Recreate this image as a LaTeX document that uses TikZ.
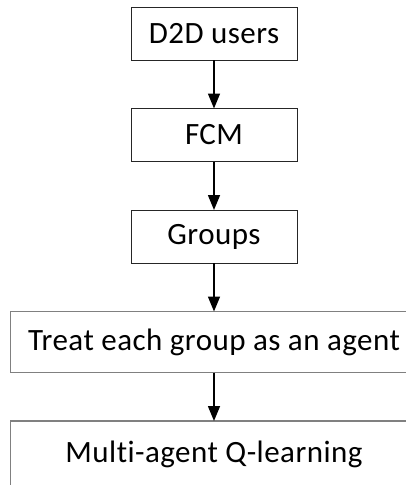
\documentclass[tikz,border=0pt]{standalone}
\usepackage{fontspec}
\setmainfont{Carlito}[LetterSpace=1.5,Ligatures=NoCommon]
\usetikzlibrary{positioning,arrows.meta}

\begin{document}
\begin{tikzpicture}[
  x=1pt,y=-1pt,
  every node/.style={font=\fontsize{31}{37}\selectfont},
  stage/.style={draw=black!85,line width=0.9pt,minimum width=166pt,minimum height=53pt,inner sep=0pt,outer sep=0pt},
  widestage/.style={draw=black!50,line width=1.4pt,minimum width=406.6pt,minimum height=61pt,inner sep=0pt,outer sep=0pt},
  flow/.style={line width=1.5pt,-{Triangle[length=15pt,width=12pt]}},
  node distance=48.5pt
]
\useasboundingbox (0,0) rectangle (406,485);
\clip (0,0) rectangle (406,485);

% ------------------------------------------------------------
% The three small stages
% ------------------------------------------------------------
\node[stage] (users) at (214,33.5) {D2D users};
\node[stage, below=of users] (fcm) {FCM};
\node[stage, below=of fcm] (groups) {Groups};

% ------------------------------------------------------------
% The two wide stages (cut off by the page edge)
% ------------------------------------------------------------
\node[widestage, below=of groups] (agent) {Treat each group as an agent};
\node[widestage, minimum height=67pt, below=of agent] (qlearn) {Multi-agent Q-learning};

% ------------------------------------------------------------
% Arrows between the stages
% ------------------------------------------------------------
\draw[flow] (users) -- (fcm);
\draw[flow] (fcm) -- (groups);
\draw[flow] (groups) -- (agent);
\draw[flow] (agent) -- (qlearn);

\end{tikzpicture}
\end{document}
